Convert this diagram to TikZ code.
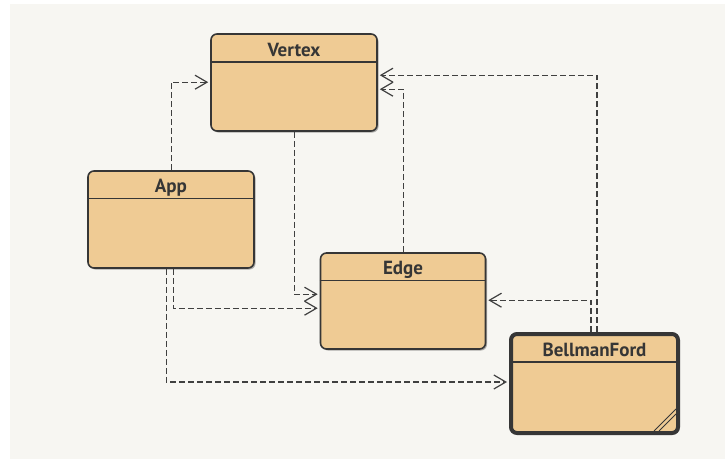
\documentclass[tikz,border=0pt]{standalone}
\usepackage{fontspec}
\setsansfont{PT Sans}
\usetikzlibrary{arrows.meta,shadows}
\definecolor{bgcol}{HTML}{F7F6F2}
\definecolor{boxfill}{HTML}{EFCB94}
\definecolor{boxline}{HTML}{363636}
\definecolor{depcol}{HTML}{404040}
\begin{document}
\begin{tikzpicture}[x=1pt,y=-1pt,
  cls/.style={draw=boxline, fill=boxfill, line width=1.6pt, rounded corners=6pt, inner sep=0pt,
    drop shadow={shadow xshift=1.5pt, shadow yshift=-1.5pt, opacity=0.3, fill=black}},
  title/.style={font=\sffamily\bfseries\fontsize{19}{21}\selectfont, text=boxline, anchor=base, inner sep=0pt},
  sepline/.style={draw=boxline, line width=1.5pt},
  depline/.style={draw=depcol, line width=1.2pt, dash pattern=on 6pt off 3pt,
    -{Straight Barb[length=12pt,width=14pt,line width=1.2pt]}, shorten >=2pt}]
\useasboundingbox (0,0) rectangle (725,461);
\fill[white] (0,0) rectangle (725,461);
\fill[bgcol] (10,4) rectangle (725,459);

% classes
\node[cls, minimum width=166pt, minimum height=97pt] (vertex) at (294,82.5) {};
\node[cls, minimum width=166pt, minimum height=97pt] (app) at (171,219.5) {};
\node[cls, minimum width=165pt, minimum height=96pt] (edge) at (403,301) {};
\node[cls, line width=4pt, minimum width=167pt, minimum height=99pt] (bf) at (594.5,383.5) {};

% compartments
\draw[sepline] ([yshift=-29pt]vertex.north west) -- ([yshift=-29pt]vertex.north east);
\draw[sepline] ([yshift=-28.5pt]app.north west) -- ([yshift=-28.5pt]app.north east);
\draw[sepline] ([yshift=-28.5pt]edge.north west) -- ([yshift=-28.5pt]edge.north east);
\draw[sepline] ([yshift=-30pt]bf.north west) -- ([yshift=-30pt]bf.north east);

% titles
\node[title] (vertext) at ([yshift=-23pt]vertex.north) {Vertex};
\node[title] (apptext) at ([yshift=-22.5pt]app.north) {App};
\node[title] (edgetext) at ([yshift=-22.5pt]edge.north) {Edge};
\node[title] (bftext) at ([yshift=-24.5pt]bf.north) {BellmanFord};

% active-class corner mark
\draw[boxline, line width=1pt] ([xshift=-26pt,yshift=4pt]bf.south east) -- ([xshift=-4pt,yshift=26pt]bf.south east);
\draw[boxline, line width=1pt] ([xshift=-21pt,yshift=4pt]bf.south east) -- ([xshift=-4pt,yshift=21pt]bf.south east);

% dependencies
\draw[depline] ([xshift=84pt]app.north west) |- ([yshift=-49pt]vertex.north west);
\draw[depline] ([xshift=84pt]vertex.south west) |- ([yshift=-42pt]edge.north west);
\draw[depline] ([xshift=86pt]app.south west) |- ([yshift=-56pt]edge.north west);
\draw[depline] ([xshift=79pt]app.south west) |- ([yshift=-50pt]bf.north west);
\draw[depline] ([xshift=83.5pt]edge.north west) |- ([yshift=-56pt]vertex.north east);
\draw[depline] ([xshift=88pt]bf.north west) |- ([yshift=-42pt]vertex.north east);
\draw[depline] ([xshift=82pt]bf.north west) |- ([yshift=-48pt]edge.north east);
\end{tikzpicture}
\end{document}
